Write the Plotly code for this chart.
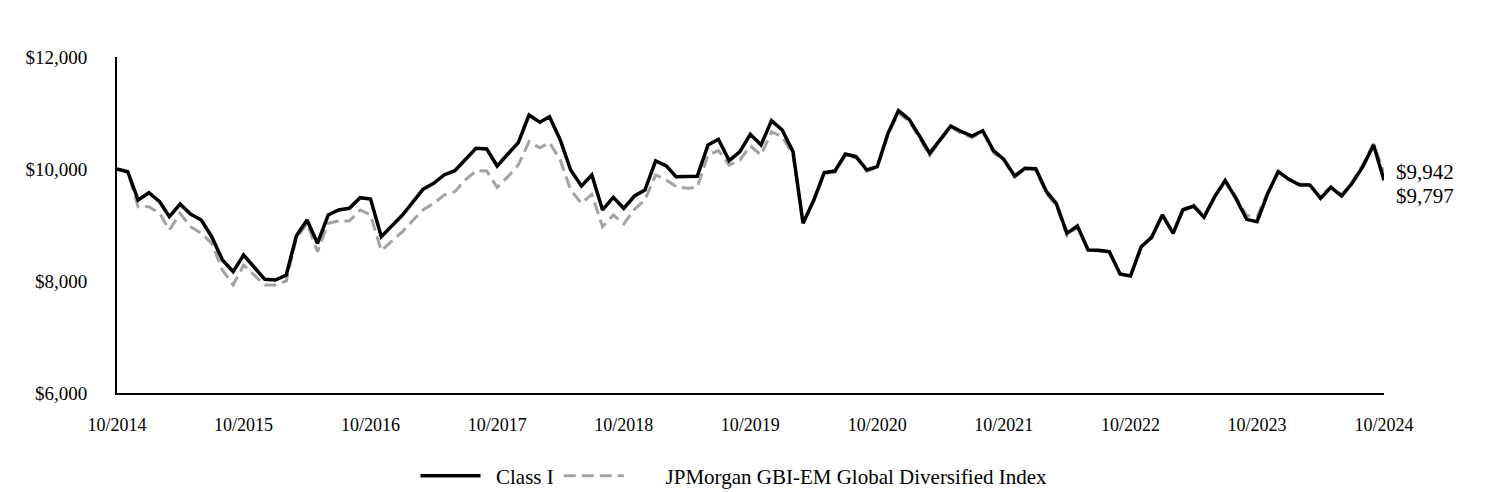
import pandas as pd
import plotly.graph_objects as go

dates = pd.date_range("2014-10-01", "2024-10-01", freq="MS")

class_i = [10000, 9952, 9446, 9577, 9416, 9149, 9375, 9196, 9089, 8791,
           8375, 8166, 8464, 8244, 8030, 8018, 8107, 8804, 9089, 8673,
           9179, 9268, 9298, 9488, 9464, 8791, 8982, 9179, 9417, 9637,
           9744, 9893, 9970, 10173, 10369, 10357, 10054, 10268, 10470, 10964,
           10835, 10934, 10518, 9982, 9696, 9893, 9268, 9494, 9298, 9518,
           9625, 10143, 10054, 9863, 9863, 9869, 10429, 10530, 10149, 10310,
           10619, 10429, 10863, 10696, 10310, 9030, 9446, 9935, 9964, 10268,
           10220, 9982, 10042, 10637, 11042, 10887, 10577, 10280, 10530, 10768,
           10666, 10589, 10684, 10327, 10173, 9875, 10012, 10006, 9595, 9387,
           8851, 8982, 8554, 8548, 8524, 8125, 8089, 8613, 8780, 9179,
           8851, 9268, 9339, 9137, 9506, 9792, 9476, 9101, 9060, 9565,
           9952, 9815, 9714, 9714, 9476, 9673, 9518, 9744, 10042, 10429,
           9797]

index_vals = [10000, 9940, 9327, 9327, 9208, 8911, 9208, 8970, 8851, 8673,
              8196, 7929, 8286, 8107, 7929, 7929, 8000, 8762, 9030, 8524,
              9030, 9071, 9071, 9268, 9179, 8542, 8702, 8881, 9089, 9268,
              9387, 9536, 9595, 9804, 9970, 9964, 9673, 9863, 10071, 10488,
              10380, 10470, 10161, 9625, 9387, 9548, 8970, 9179, 9018, 9280,
              9446, 9893, 9804, 9685, 9655, 9673, 10250, 10327, 10071, 10161,
              10411, 10250, 10666, 10577, 10250, 9020, 9430, 9915, 9945, 10245,
              10200, 9960, 10030, 10610, 11000, 10850, 10540, 10240, 10510, 10750,
              10630, 10560, 10670, 10290, 10150, 9850, 10000, 9990, 9560, 9350,
              8810, 8960, 8550, 8540, 8520, 8120, 8090, 8610, 8790, 9190,
              8870, 9280, 9360, 9160, 9520, 9800, 9500, 9170, 9150, 9590,
              9950, 9810, 9730, 9720, 9500, 9690, 9540, 9770, 10080, 10450,
              9942]

tick_dates = pd.date_range("2014-10-01", "2024-10-01", freq="12MS")
tick_text = [d.strftime("%m/%Y") for d in tick_dates]
y_ticks = [6000, 8000, 10000, 12000]
y_text = ["$6,000", "$8,000", "$10,000", "$12,000"]

FONT = "Liberation Serif, Times New Roman, serif"
NB = "\u00a0"

fig = go.Figure()
fig.add_trace(go.Scatter(
    x=dates, y=index_vals, mode="lines",
    name=NB * 7 + "JPMorgan GBI-EM Global Diversified Index",
    line=dict(color="#a3a3a3", width=3, dash="12px,6px"),
    legendrank=2,
))
fig.add_trace(go.Scatter(
    x=dates, y=class_i, mode="lines", name=NB * 2 + "Class I",
    line=dict(color="#000000", width=3.5),
    legendrank=1,
))

fig.add_annotation(x=dates[-1], y=index_vals[-1], text="$9,942", showarrow=False,
                   xanchor="left", xshift=10, yshift=0,
                   font=dict(family=FONT, size=21, color="#000"))
fig.add_annotation(x=dates[-1], y=class_i[-1], text="$9,797", showarrow=False,
                   xanchor="left", xshift=10, yshift=-16,
                   font=dict(family=FONT, size=21, color="#000"))

fig.update_layout(
    width=1488, height=492,
    margin=dict(l=109, r=112, t=49, b=107, autoexpand=False),
    paper_bgcolor="white", plot_bgcolor="white",
    font=dict(family=FONT, size=18, color="#000"),
    showlegend=True,
    legend=dict(orientation="h", x=0.487, xanchor="center", y=-0.247, yanchor="middle",
                font=dict(family=FONT, size=21), itemwidth=60,
                tracegroupgap=0),
)
fig.update_xaxes(
    range=[dates[0], dates[-1]],
    tickvals=tick_dates, ticktext=tick_text,
    showgrid=False, zeroline=False, automargin=False,
    showline=True, linecolor="#000", linewidth=2,
    ticks="", ticklabelstandoff=14, tickfont=dict(size=18),
)
fig.update_yaxes(
    range=[6000, 12000],
    tickvals=y_ticks, ticktext=y_text,
    showgrid=False, zeroline=False, automargin=False,
    showline=True, linecolor="#000", linewidth=2,
    ticks="", ticklabelstandoff=24, tickfont=dict(size=19),
)

fig.write_html("out.html")
